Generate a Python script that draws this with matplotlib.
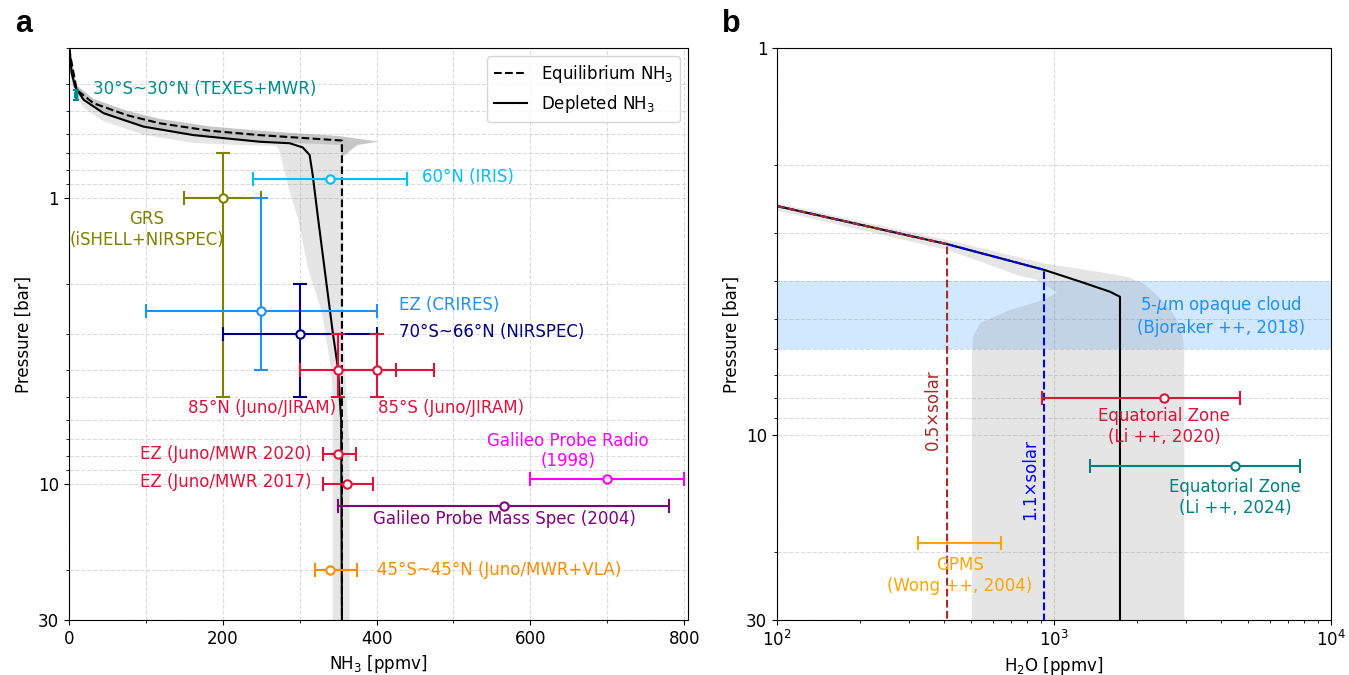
import numpy as np
import matplotlib
matplotlib.use("Agg")
import matplotlib.pyplot as plt
from matplotlib.ticker import FixedLocator, NullFormatter, LogLocator, MultipleLocator, FixedFormatter

# ---------------- Panel a : NH3 ----------------
eq_nh3 = [0, 10, 32, 75, 118, 183, 248, 355, 355]
eq_p = [0.30, 0.42, 0.468, 0.515, 0.55, 0.584, 0.605, 0.632, 30]

dep_nh3 = [0, 1, 3.5, 8, 19, 45, 97, 162, 248, 287, 304, 313, 317, 324, 343, 350, 352, 354, 355]
dep_p = [0.30, 0.305, 0.367, 0.41, 0.455, 0.507, 0.565, 0.605, 0.638, 0.646, 0.668,
         0.71, 0.835, 1.185, 2.95, 3.98, 4.95, 6.0, 30]

# uncertainty envelopes (polygon outlines)
dep_band_nh3 = [0, 10, 32, 75, 118, 183, 248, 352, 402, 375, 357, 357, 361, 365, 365,
                343, 343, 341, 329, 311, 298, 287, 274, 270, 222, 162, 97, 45, 19, 8, 3, 0]
dep_band_p = [0.30, 0.405, 0.452, 0.497, 0.531, 0.564, 0.584, 0.61, 0.638, 0.655, 0.72, 3.0, 5.0, 7.5, 30,
              30, 5.0, 4.0, 2.52, 1.775, 1.185, 0.955, 0.69, 0.66, 0.655, 0.645, 0.603, 0.541, 0.485, 0.437, 0.395, 0.31]

eq_band_nh3 = [0, 10, 32, 75, 118, 183, 248, 352, 402, 375, 355, 352, 248, 162, 97, 45, 19, 8, 3, 0]
eq_band_p = [0.30, 0.405, 0.452, 0.497, 0.531, 0.564, 0.584, 0.61, 0.638, 0.655, 0.72, 0.655,
             0.636, 0.605, 0.565, 0.507, 0.455, 0.41, 0.37, 0.30]

obs_a_labels = ["30°S~30°N (TEXES+MWR)", "GRS\n(iSHELL+NIRSPEC)", "60°N (IRIS)", "EZ (CRIRES)",
                "70°S~66°N (NIRSPEC)", "85°N (Juno/JIRAM)", "85°S (Juno/JIRAM)",
                "EZ (Juno/MWR 2020)", "EZ (Juno/MWR 2017)", "Galileo Probe Radio\n(1998)",
                "Galileo Probe Mass Spec (2004)", "45°S~45°N (Juno/MWR+VLA)"]
obs_a_nh3 = [9, 200, 340, 250, 300, 350, 400, 350, 362, 700, 566, 340]
obs_a_nh3_lo = [8, 150, 240, 100, 200, 300, 350, 330, 330, 600, 350, 320]
obs_a_nh3_hi = [10, 250, 440, 400, 400, 425, 475, 373, 395, 800, 780, 375]
obs_a_p = [0.437, 1.0, 0.86, 2.5, 3.0, 4.0, 4.0, 7.9, 10.0, 9.63, 12.0, 20.0]
obs_a_p_lo = [0.42, 0.7, 0.86, 1.0, 2.0, 3.0, 3.0, 7.9, 10.0, 9.63, 12.0, 20.0]
obs_a_p_hi = [0.456, 5.0, 0.86, 4.0, 5.0, 5.0, 5.0, 7.9, 10.0, 9.63, 12.0, 20.0]
obs_a_colors = ["darkcyan", "olive", "deepskyblue", "dodgerblue", "navy", "crimson", "crimson",
                "crimson", "crimson", "magenta", "purple", "darkorange"]

# ---------------- Panel b : H2O ----------------
h2o_curve_x = [100, 411, 920, 1241, 1592, 1730, 1730]
h2o_curve_p = [2.56, 3.21, 3.74, 4.01, 4.26, 4.39, 30]
half_solar_x = [100, 411, 411]
half_solar_p = [2.56, 3.21, 30]
solar11_x = [100, 411, 920, 920]
solar11_p = [2.56, 3.21, 3.74, 30]

h2o_band_x = [100, 411, 918, 1500, 1835, 2100, 2354, 2600, 2780, 2900, 2950, 2955, 506, 506, 510,
              541, 693, 920, 1026, 868, 754, 411, 100]
h2o_band_p = [2.52, 3.13, 3.60, 3.80, 3.90, 4.05, 4.35, 4.70, 5.04, 5.4, 6.0, 30, 30, 6.2, 5.57,
              5.13, 4.75, 4.47, 4.29, 3.97, 3.88, 3.32, 2.63]

cloud_p = [4.0, 6.0]

obs_b_labels = ["Equatorial Zone\n(Li ++, 2020)", "Equatorial Zone\n(Li ++, 2024)", "GPMS\n(Wong ++, 2004)"]
obs_b_h2o = [2500, 4500, 456]
obs_b_h2o_lo = [905, 1349, 323]
obs_b_h2o_hi = [4690, 7730, 644]
obs_b_p = [8.0, 12.0, 19.0]
obs_b_colors = ["crimson", "teal", "orange"]

FS = 12
plt.rcParams["font.size"] = FS

fig = plt.figure(figsize=(13.49, 6.75), dpi=100)
axa = fig.add_axes([0.0511, 0.0815, 0.4589, 0.8474])
axb = fig.add_axes([0.5760, 0.0815, 0.4107, 0.8474])

# ---- panel a ----
axa.fill(dep_band_nh3, dep_band_p, color="gray", alpha=0.2, lw=0, zorder=1)
axa.fill(eq_band_nh3, eq_band_p, color="gray", alpha=0.3, lw=0, zorder=1)
l1, = axa.plot(eq_nh3, eq_p, "k--", lw=1.5, label="Equilibrium NH$_3$", zorder=2)
l2, = axa.plot(dep_nh3, dep_p, "k-", lw=1.5, label="Depleted NH$_3$", zorder=2)

for i in range(len(obs_a_nh3)):
    x, p = obs_a_nh3[i], obs_a_p[i]
    xe = [[x - obs_a_nh3_lo[i]], [obs_a_nh3_hi[i] - x]]
    ye = [[p - obs_a_p_lo[i]], [obs_a_p_hi[i] - p]]
    c = obs_a_colors[i]
    if i == 0:
        axa.errorbar([x], [p], xerr=xe, yerr=ye, fmt="none", ecolor=c, capsize=2,
                     elinewidth=2.5, capthick=1.5, zorder=3)
    else:
        axa.errorbar([x], [p], xerr=xe, yerr=ye, fmt="o", color=c, mfc="white", mec=c,
                     ms=6, mew=1.5, capsize=5, elinewidth=1.5, capthick=1.5, zorder=3)

axa.text(31, 0.418, obs_a_labels[0], color=obs_a_colors[0], ha="left", va="center")
axa.text(101, 1.29, obs_a_labels[1], color=obs_a_colors[1], ha="center", va="center")
axa.text(459, 0.85, obs_a_labels[2], color=obs_a_colors[2], ha="left", va="center")
axa.text(429, 2.37, obs_a_labels[3], color=obs_a_colors[3], ha="left", va="center")
axa.text(429, 2.95, obs_a_labels[4], color=obs_a_colors[4], ha="left", va="center")
axa.text(348, 5.45, obs_a_labels[5], color=obs_a_colors[5], ha="right", va="center")
axa.text(402, 5.45, obs_a_labels[6], color=obs_a_colors[6], ha="left", va="center")
axa.text(316, 7.91, obs_a_labels[7], color=obs_a_colors[7], ha="right", va="center")
axa.text(316, 9.9, obs_a_labels[8], color=obs_a_colors[8], ha="right", va="center")
axa.text(649, 7.7, obs_a_labels[9], color=obs_a_colors[9], ha="center", va="center")
axa.text(566, 13.3, obs_a_labels[10], color=obs_a_colors[10], ha="center", va="center")
axa.text(400, 20.0, obs_a_labels[11], color=obs_a_colors[11], ha="left", va="center")

axa.set_yscale("log")
axa.set_ylim(30, 0.3)
axa.set_xlim(0, 805)
axa.yaxis.set_major_locator(FixedLocator([1, 10, 30]))
axa.yaxis.set_major_formatter(FixedFormatter(["1", "10", "30"]))
axa.yaxis.set_minor_locator(LogLocator(base=10, subs=np.arange(2, 10)))
axa.yaxis.set_minor_formatter(NullFormatter())
axa.xaxis.set_major_locator(MultipleLocator(200))
axa.xaxis.set_minor_locator(MultipleLocator(100))
axa.grid(True, which="both", ls="--", color="lightgray", lw=0.8, alpha=0.8)
axa.set_axisbelow(True)
axa.set_xlabel("NH$_3$ [ppmv]")
axa.set_ylabel("Pressure [bar]")
axa.legend(handles=[l1, l2], loc="upper right", fontsize=FS)

# ---- panel b ----
axb.axhspan(cloud_p[0], cloud_p[1], color="dodgerblue", alpha=0.2, lw=0, zorder=1)
axb.fill(h2o_band_x, h2o_band_p, color="gray", alpha=0.2, lw=0, zorder=1)
axb.plot(h2o_curve_x, h2o_curve_p, "k-", lw=1.5, zorder=2)
axb.plot(solar11_x, solar11_p, color="blue", ls="--", lw=1.5, zorder=2)
axb.plot(half_solar_x, half_solar_p, color="brown", ls="--", lw=1.5, zorder=2)

for i in range(len(obs_b_h2o)):
    x, p = obs_b_h2o[i], obs_b_p[i]
    xe = [[x - obs_b_h2o_lo[i]], [obs_b_h2o_hi[i] - x]]
    c = obs_b_colors[i]
    if i == 2:
        axb.errorbar([x], [p], xerr=xe, fmt="none", ecolor=c, capsize=5,
                     elinewidth=1.5, capthick=1.5, zorder=3)
    else:
        axb.errorbar([x], [p], xerr=xe, fmt="o", color=c, mfc="white", mec=c,
                     ms=6, mew=1.5, capsize=5, elinewidth=1.5, capthick=1.5, zorder=3)

axb.text(2500, 9.5, obs_b_labels[0], color="crimson", ha="center", va="center")
axb.text(4500, 14.5, obs_b_labels[1], color="teal", ha="center", va="center")
axb.text(458, 23.0, obs_b_labels[2], color="orange", ha="center", va="center")
axb.text(366, 8.6, "0.5×solar", color="brown", rotation=90, ha="center", va="center")
axb.text(819, 13.0, "1.1×solar", color="blue", rotation=90, ha="center", va="center")
axb.text(4009, 4.9, "5-$\\mu$m opaque cloud\n(Bjoraker ++, 2018)", color="dodgerblue",
         ha="center", va="center")

axb.set_xscale("log")
axb.set_yscale("log")
axb.set_xlim(100, 1e4)
axb.set_ylim(30, 1)
axb.yaxis.set_major_locator(FixedLocator([1, 10, 30]))
axb.yaxis.set_major_formatter(FixedFormatter(["1", "10", "30"]))
axb.yaxis.set_minor_locator(LogLocator(base=10, subs=np.arange(2, 10)))
axb.yaxis.set_minor_formatter(NullFormatter())
axb.grid(True, which="major", ls="--", color="lightgray", lw=0.8, alpha=0.8)
axb.grid(True, which="minor", axis="y", ls="--", color="lightgray", lw=0.8, alpha=0.8)
axb.set_axisbelow(True)
axb.set_xlabel("H$_2$O [ppmv]")
axb.set_ylabel("Pressure [bar]")

fig.text(0.011, 0.965, "a", fontsize=22, fontweight="bold", family="Liberation Sans", va="center")
fig.text(0.535, 0.965, "b", fontsize=22, fontweight="bold", family="Liberation Sans", va="center")

fig.savefig("out.png", dpi=100)
